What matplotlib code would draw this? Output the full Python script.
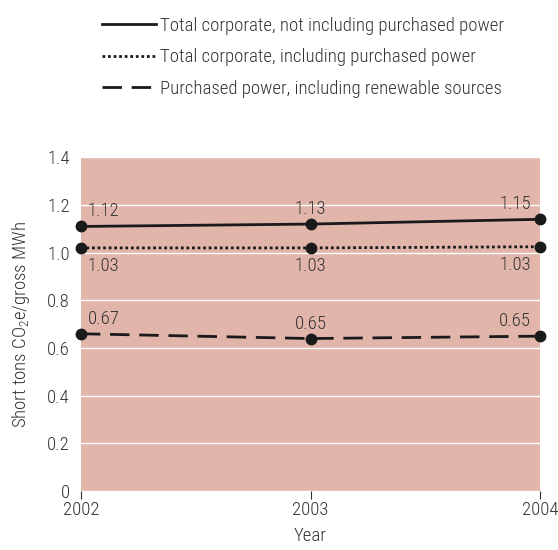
import matplotlib.pyplot as plt
from matplotlib import font_manager
from matplotlib.lines import Line2D

years = [2002, 2003, 2004]
not_incl = [1.11, 1.12, 1.14]
incl = [1.02, 1.02, 1.025]
purchased = [0.66, 0.64, 0.65]
labels_not_incl = ['1.12', '1.13', '1.15']
labels_incl = ['1.03', '1.03', '1.03']
labels_purchased = ['0.67', '0.65', '0.65']
legend_names = ['Total corporate, not including purchased power',
                'Total corporate, including purchased power',
                'Purchased power, including renewable sources']

# pick a narrow family if one is installed
names = {f.name for f in font_manager.fontManager.ttflist}
family = 'DejaVu Sans'
for cand in ['Roboto Condensed', 'Liberation Sans Narrow', 'Arial Narrow', 'Roboto']:
    if cand in names:
        family = cand
        break
plt.rcParams['font.family'] = [family, 'DejaVu Sans']
plt.rcParams['font.weight'] = 'light'
plt.rcParams['axes.labelweight'] = 'light'
plt.rcParams['font.size'] = 13.5
plt.rcParams['mathtext.fontset'] = 'custom'
plt.rcParams['mathtext.rm'] = family + ':light'

fig = plt.figure(figsize=(5.58, 5.5), dpi=100)
ax = fig.add_axes([0.145, 0.107, 0.823, 0.607])
ax.set_facecolor('#e2b5ab')

styles = ['-', (0, (1, 1)), (0, (7, 3.5))]
for vals, ls in zip([not_incl, incl, purchased], styles):
    ax.plot(years, vals, color='#1a1a1a', lw=2, linestyle=ls,
            marker='o', markersize=7.5, clip_on=False, zorder=3)

ha_list = ['left', 'center', 'right']
dx = [0.03, 0, -0.04]
txt = '#333333'
for i, x in enumerate(years):
    ax.text(x + dx[i], not_incl[i] + 0.025, labels_not_incl[i], ha=ha_list[i], va='bottom', color=txt)
    ax.text(x + dx[i], incl[i] - 0.04, labels_incl[i], ha=ha_list[i], va='top', color=txt)
    ax.text(x + dx[i], purchased[i] + 0.025, labels_purchased[i], ha=ha_list[i], va='bottom', color=txt)

ax.set_xlim(2002, 2004)
ax.set_ylim(0, 1.4)
ax.set_xticks(years)
ax.set_yticks([0, 0.2, 0.4, 0.6, 0.8, 1.0, 1.2, 1.4])
ax.set_yticklabels(['0', '0.2', '0.4', '0.6', '0.8', '1.0', '1.2', '1.4'])
ax.grid(axis='y', color='white', lw=1)
ax.set_axisbelow(True)
for s in ax.spines.values():
    s.set_visible(False)
ax.tick_params(axis='y', length=0, pad=8, labelcolor=txt)
ax.tick_params(axis='x', length=6, width=0.8, color=txt, direction='out', labelcolor=txt, pad=1)
ax.set_xlabel('Year', color=txt, labelpad=6, fontweight='light')
ax.set_ylabel('Short tons CO$_2$e/gross MWh', color=txt, labelpad=11, fontweight='light')

handles = [Line2D([], [], color='#1a1a1a', lw=2, linestyle=ls) for ls in styles]
fig.legend(handles, legend_names, loc='upper left', bbox_to_anchor=(0.152, 1.0),
           frameon=False, handlelength=2.9, labelspacing=0.72, handletextpad=0.2,
           labelcolor=txt)

fig.savefig('out.png', dpi=100)
